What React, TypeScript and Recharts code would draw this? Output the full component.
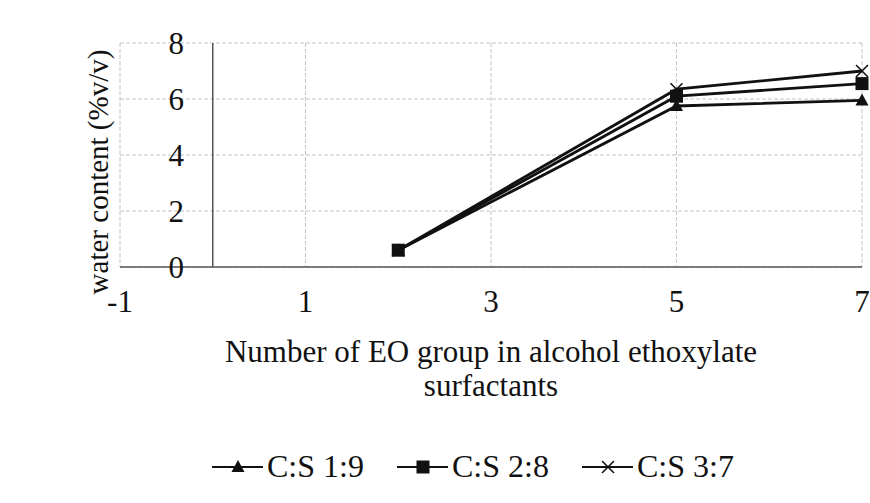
import React from "react";
import {
  LineChart,
  Line,
  XAxis,
  YAxis,
  CartesianGrid,
  Legend,
  ReferenceLine
} from "recharts";

const eoGroups = [2, 5, 7];
const cs19 = [0.6, 5.75, 5.95];
const cs28 = [0.6, 6.1, 6.55];
const cs37 = [0.6, 6.35, 7.0];
const xTicks = [-1, 1, 3, 5, 7];
const yTicks = [0, 2, 4, 6, 8];
const seriesNames = ["C:S 1:9", "C:S 2:8", "C:S 3:7"];

const FONT = "'Liberation Serif', 'Times New Roman', serif";

const chartData = eoGroups.map((x, i) => ({
  x,
  a: cs19[i],
  b: cs28[i],
  c: cs37[i]
}));

const Marker = ({ cx, cy, kind }: { cx: number; cy: number; kind: string }) => {
  if (kind === "tri") {
    return (
      <polygon
        points={`${cx},${cy - 7} ${cx - 6.5},${cy + 5} ${cx + 6.5},${cy + 5}`}
        fill="#111"
      />
    );
  }
  if (kind === "sq") {
    return <rect x={cx - 6.5} y={cy - 6.5} width={13} height={13} fill="#111" />;
  }
  return (
    <g stroke="#111" strokeWidth={1.6}>
      <line x1={cx - 6} y1={cy - 6} x2={cx + 6} y2={cy + 6} />
      <line x1={cx - 6} y1={cy + 6} x2={cx + 6} y2={cy - 6} />
    </g>
  );
};

const dotFor = (kind: string) => (props: any) => (
  <Marker key={`${kind}-${props.index}`} cx={props.cx} cy={props.cy} kind={kind} />
);

const XTick = ({ x, y, payload }: any) => (
  <text x={x} y={y} dy={37} textAnchor="middle" fontFamily={FONT} fontSize={31} fill="#111">
    {payload.value}
  </text>
);

const YTick = ({ x, y, payload }: any) => (
  <text x={x + 72} y={y} dy={11} textAnchor="end" fontFamily={FONT} fontSize={31} fill="#111">
    {payload.value}
  </text>
);

const kinds = ["tri", "sq", "x"];

const LegendContent = () => (
  <svg width={540} height={50}>
    {seriesNames.map((name, i) => {
      const ox = i * 185;
      return (
        <g key={name}>
          <line x1={ox} y1={27} x2={ox + 51} y2={27} stroke="#111" strokeWidth={2} />
          <Marker cx={ox + 26} cy={27} kind={kinds[i]} />
          <text x={ox + 55} y={37} fontFamily={FONT} fontSize={32} fill="#111">
            {name}
          </text>
        </g>
      );
    })}
  </svg>
);

const XTitle = (props: any) => {
  const vb = props.viewBox || {};
  const cx = vb.x + vb.width / 2;
  return (
    <text x={cx} y={vb.y} textAnchor="middle" fontFamily={FONT} fontSize={31} fill="#111">
      <tspan x={cx} dy={95}>Number of EO group in alcohol ethoxylate</tspan>
      <tspan x={cx} dy={34}>surfactants</tspan>
    </text>
  );
};

const YTitle = (props: any) => {
  const vb = props.viewBox || {};
  const x = vb.x + vb.width - 12;
  const y = 172;
  return (
    <text
      x={x}
      y={y}
      transform={`rotate(-90 ${x} ${y})`}
      textAnchor="middle"
      fontFamily={FONT}
      fontSize={29}
      fill="#111"
    >
      water content (%v/v)
    </text>
  );
};

export default function App() {
  return (
    <div style={{ position: "absolute", left: 0, top: 0, width: 870, height: 503, background: "#fff" }}>
      <LineChart
        width={870}
        height={503}
        data={chartData}
        margin={{ top: 43, right: 8, left: 60, bottom: 176 }}
      >
        <CartesianGrid stroke="#c4c4c4" strokeDasharray="4 2" />
        <XAxis
          type="number"
          dataKey="x"
          domain={[-1, 7]}
          ticks={xTicks}
          height={60}
          axisLine={{ stroke: "#555", strokeWidth: 1.5 }}
          tickLine={false}
          tick={<XTick />}
          label={{ content: XTitle }}
        />
        <YAxis
          type="number"
          domain={[0, 8]}
          ticks={yTicks}
          width={60}
          axisLine={false}
          tickLine={false}
          tick={<YTick />}
          label={{ content: YTitle }}
        />
        <ReferenceLine x={0} stroke="#555" strokeWidth={1.5} />
        <Legend
          verticalAlign="middle"
          align="center"
          layout="horizontal"
          wrapperStyle={{ position: "absolute", top: 440, left: 212, width: 560 }}
          content={<LegendContent />}
        />
        <Line
          dataKey="a"
          name={seriesNames[0]}
          stroke="#111"
          strokeWidth={2.8}
          dot={dotFor("tri")}
          isAnimationActive={false}
        />
        <Line
          dataKey="b"
          name={seriesNames[1]}
          stroke="#111"
          strokeWidth={2.8}
          dot={dotFor("sq")}
          isAnimationActive={false}
        />
        <Line
          dataKey="c"
          name={seriesNames[2]}
          stroke="#111"
          strokeWidth={2.8}
          dot={dotFor("x")}
          isAnimationActive={false}
        />
      </LineChart>
    </div>
  );
}
